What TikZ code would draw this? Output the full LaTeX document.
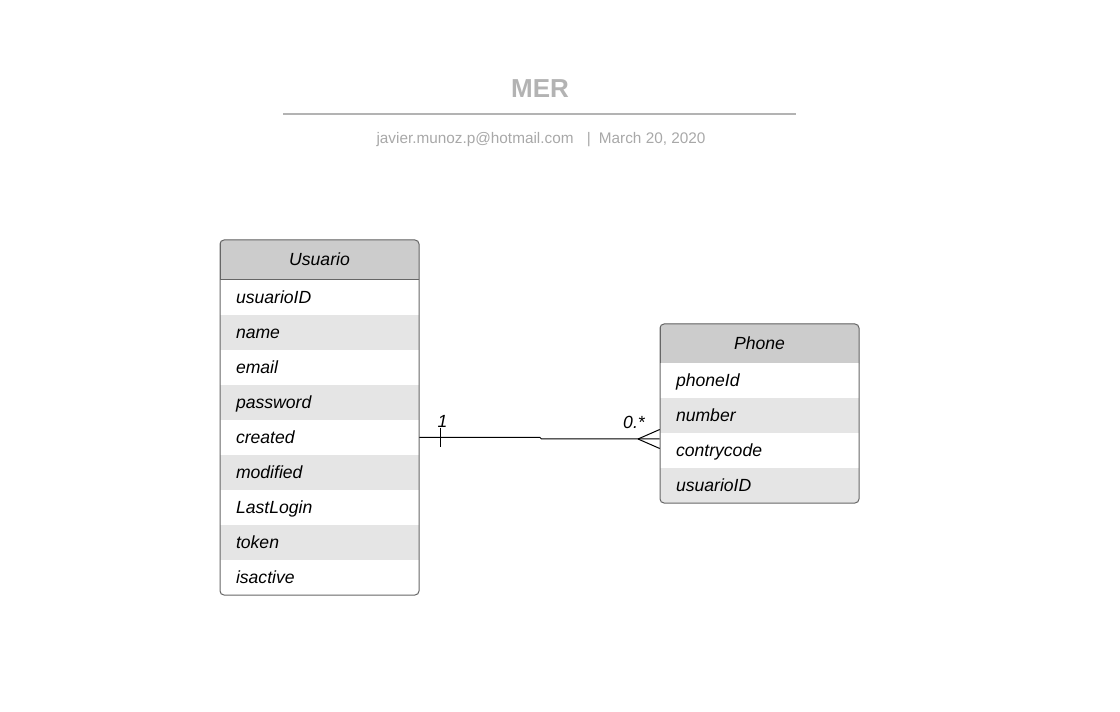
\documentclass[tikz,border=0pt]{standalone}
\usepackage{fontspec}
\setmainfont{Liberation Sans}
\usetikzlibrary{calc}
\definecolor{hdrgray}{HTML}{CCCCCC}
\definecolor{rowgray}{HTML}{E5E5E5}
\definecolor{titlegray}{HTML}{B3B3B3}
\definecolor{subgray}{HTML}{A8A8A8}
\definecolor{edgegray}{HTML}{666666}
\tikzset{
  field/.style={rectangle, minimum height=26.25pt, text width=125.25pt,
    text height=11pt, text depth=2pt,
    inner xsep=12pt, inner ysep=0pt, align=left,
    font=\itshape\fontsize{13.2}{15}\selectfont},
  whiterow/.style={field, fill=white},
  grayrow/.style={field, fill=rowgray},
  entity/.style={rectangle, minimum width=149.25pt, minimum height=30pt,
    text height=11pt, text depth=2pt,
    inner sep=0pt, fill=hdrgray, draw=edgegray, line width=0.75pt,
    font=\itshape\fontsize{13.2}{15}\selectfont},
  frame/.style={draw=edgegray, line width=0.75pt, rounded corners=3pt},
  link/.style={line width=0.75pt}
}
\begin{document}
\begin{tikzpicture}[x=0.75pt, y=-0.75pt]
    \useasboundingbox (0,0) rectangle (1120,712);

    % title block
    \node[font=\bfseries\fontsize{19.5}{22}\selectfont, text=titlegray] (title) at (540,89) {MER};
    \draw[titlegray, line width=1.5pt] (283,114) -- (796,114);
    \node[font=\fontsize{11.5}{14}\selectfont, text=subgray] (sub) at (541,140)
        {javier.munoz.p@hotmail.com\hspace{10pt}|\hspace{6pt}March 20, 2020};

    % Usuario
    \begin{scope}
    \clip[rounded corners=3pt] (220,240) rectangle (419,595);
    \node[entity] (usuario) at (319.5,260) {Usuario};
    \node[whiterow] (u1) at (319.5,297.5) {usuarioID};
    \node[grayrow]  (u2) at (319.5,332.5) {name};
    \node[whiterow] (u3) at (319.5,367.5) {email};
    \node[grayrow]  (u4) at (319.5,402.5) {password};
    \node[whiterow] (u5) at (319.5,437.5) {created};
    \node[grayrow]  (u6) at (319.5,472.5) {modified};
    \node[whiterow] (u7) at (319.5,507.5) {LastLogin};
    \node[grayrow]  (u8) at (319.5,542.5) {token};
    \node[whiterow] (u9) at (319.5,577.5) {isactive};
    \end{scope}
    \draw[frame] (220,240) rectangle (419,595);

    % Phone
    \begin{scope}
    \clip[rounded corners=3pt] (660,324) rectangle (859,503);
    \node[entity] (phone) at (759.5,343.5) {Phone};
    \node[whiterow] (p1) at (759.5,380.5) {phoneId};
    \node[grayrow]  (p2) at (759.5,415.5) {number};
    \node[whiterow] (p3) at (759.5,450.5) {contrycode};
    \node[grayrow]  (p4) at (759.5,485.5) {usuarioID};
    \end{scope}
    \draw[frame] (660,324) rectangle (859,503);

    % relation 1 -- 0.*
    \coordinate (bend) at (540,437.5);
    \coordinate (foot) at (638,439);
    \coordinate (pin) at (p3.west |- foot);
    \draw[link] (u5.east) -- (bend) -- ++(1.5,1.5) -- (foot) -- (pin);
    \draw[link] (foot) -- ($(pin)+(0,-9.5)$);
    \draw[link] (foot) -- ($(pin)+(0,9.5)$);
    \draw[link] (440.5,428) -- (440.5,447);
    \node[font=\itshape\fontsize{13.2}{15}\selectfont] (one) at (442.5,421) {1};
    \node[font=\itshape\fontsize{13.2}{15}\selectfont] (many) at (634,422) {0.*};
\end{tikzpicture}
\end{document}
